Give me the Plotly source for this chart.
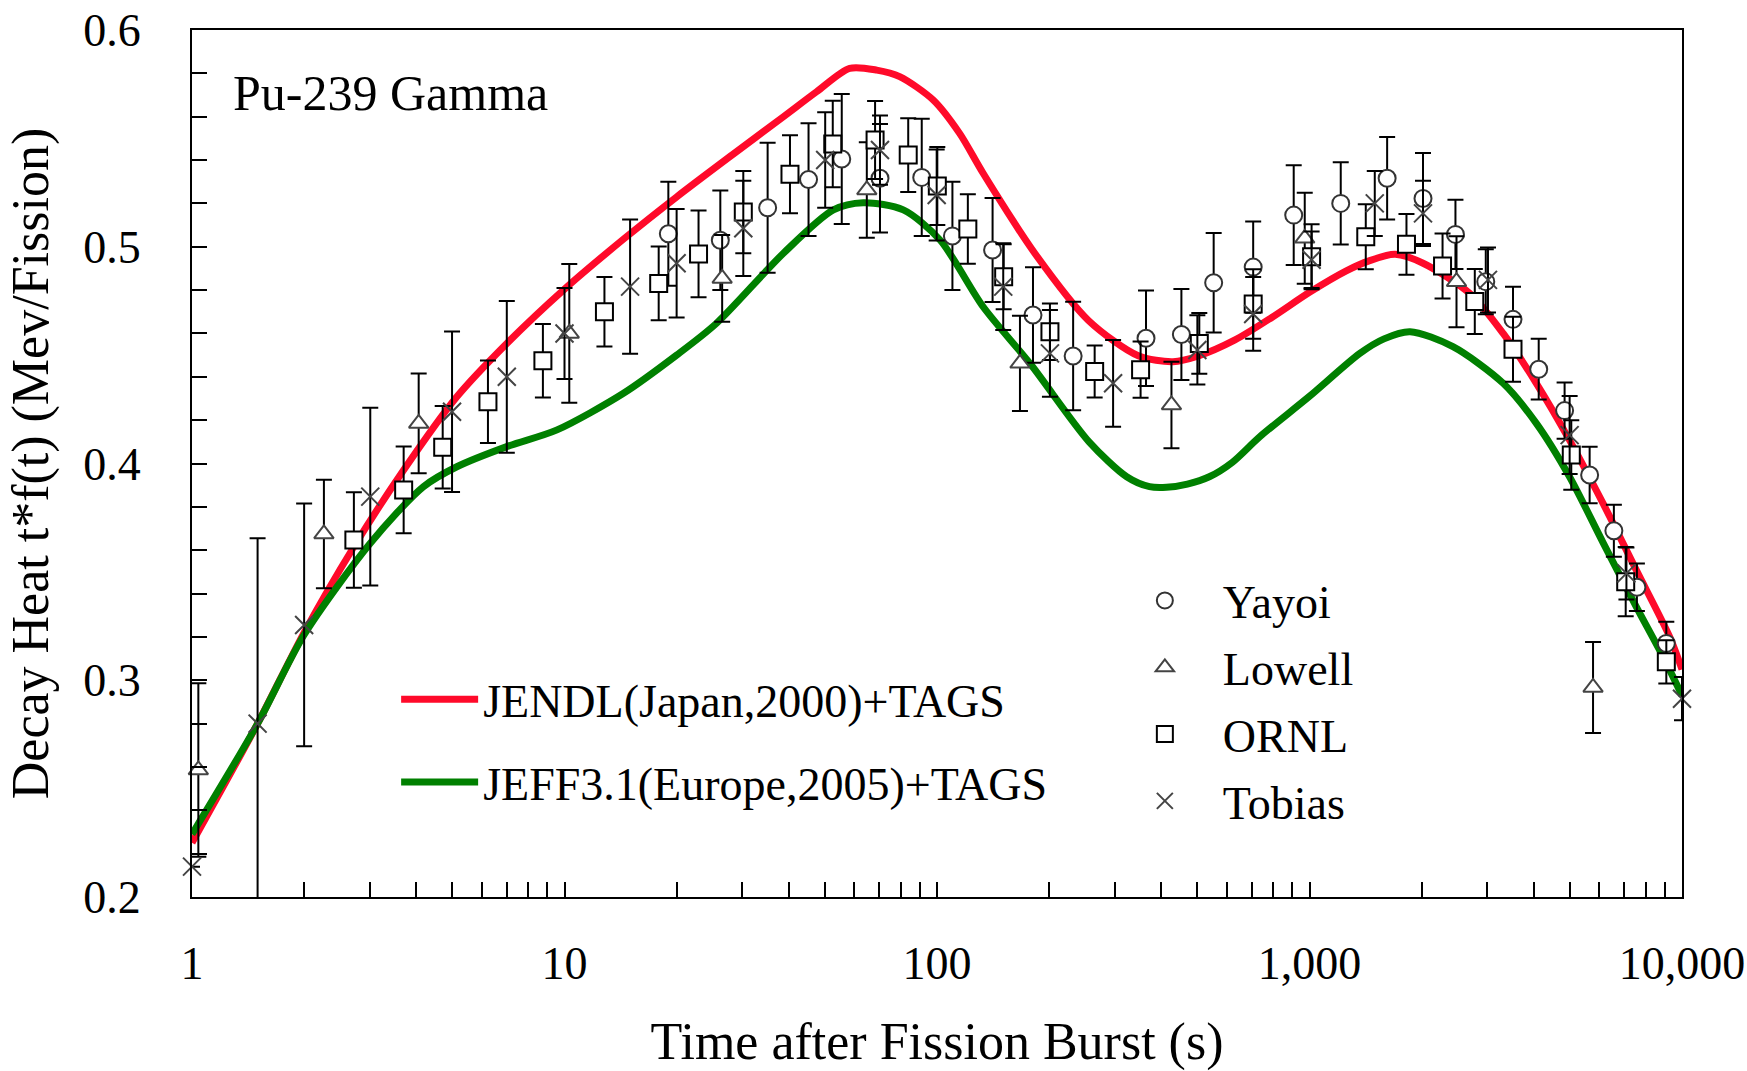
import plotly.graph_objects as go

# ---------------- data ----------------
JENDL_T = [1.0, 1.5, 2.0, 2.72, 3.7, 5.14, 7.0, 10.0, 14.4, 20.0, 28.2, 38.7, 47.5, 58.3, 68.9,
           79.4, 97.7, 115, 133, 183, 255, 347, 430, 501, 631, 794, 1000, 1259, 1445, 1698, 2018,
           2692, 3311, 4064, 4989, 6138, 7534, 9268, 10000]
JENDL_V = [0.225, 0.280, 0.322, 0.3616, 0.397, 0.4308, 0.4554, 0.4805, 0.5035, 0.523, 0.5424,
           0.560, 0.5715, 0.5823, 0.5815, 0.5785, 0.5677, 0.5523, 0.5339, 0.497, 0.466, 0.4497,
           0.447, 0.4495, 0.457, 0.4675, 0.479, 0.489, 0.4935, 0.4965, 0.4924, 0.4785, 0.460,
           0.437, 0.4108, 0.3816, 0.3509, 0.320, 0.305]

JEFF_T = [1.0, 1.5, 2.0, 3.01, 4.18, 5.14, 7.0, 9.55, 14.4, 20.0, 25.6, 38.7, 52.7, 63.4, 81.2,
          101.9, 133, 178, 256, 323, 372, 413, 470, 540, 620, 736, 1000, 1365, 1585, 1862, 2427,
          3311, 4064, 4989, 6138, 7534, 8892, 10000]
JEFF_V = [0.229, 0.280, 0.321, 0.3632, 0.3893, 0.3985, 0.4078, 0.4155, 0.4324, 0.450, 0.4647,
          0.497, 0.517, 0.5203, 0.517, 0.5031, 0.4723, 0.446, 0.410, 0.3939, 0.3893, 0.389,
          0.3905, 0.394, 0.4005, 0.4124, 0.431, 0.4508, 0.4575, 0.4608, 0.4539, 0.437, 0.4185,
          0.3939, 0.3635, 0.334, 0.3109, 0.293]

YAYOI_T = [19.0, 26.2, 35.1, 45.2, 55.5, 70.3, 91, 110, 141, 181, 232, 364, 453, 553, 706, 907,
           1213, 1616, 2017, 2465, 2973, 3518, 4124, 4840, 5650, 6563, 7567, 9076]
YAYOI_V = [0.506, 0.503, 0.518, 0.531, 0.5405, 0.5316, 0.532, 0.505, 0.4985, 0.4685, 0.4496,
           0.4578, 0.4595, 0.4834, 0.4906, 0.5146, 0.520, 0.5316, 0.5223, 0.5057, 0.4839, 0.4665,
           0.4435, 0.4244, 0.3947, 0.369, 0.3429, 0.317]
YAYOI_E = [0.024, 0.023, 0.030, 0.026, 0.030, 0.025, 0.027, 0.025, 0.024, 0.022, 0.025, 0.022,
           0.021, 0.023, 0.021, 0.023, 0.019, 0.019, 0.021, 0.016, 0.015, 0.015, 0.014, 0.013,
           0.013, 0.012, 0.011, 0.010]

LOWELL_T = [1.04, 2.26, 4.06, 10.3, 26.5, 64.8, 167, 426, 971, 2481, 5770]
LOWELL_V = [0.2586, 0.3675, 0.4185, 0.460, 0.4854, 0.5262, 0.4462, 0.427, 0.5039, 0.4839, 0.2967]
LOWELL_E = [0.040, 0.025, 0.023, 0.032, 0.020, 0.022, 0.022, 0.020, 0.021, 0.021, 0.021]

ORNL_T = [2.72, 3.70, 4.71, 6.23, 8.75, 12.8, 17.9, 22.9, 30.2, 40.3, 52.5, 68.2, 83.7, 100.2,
          121, 151, 201, 265, 352, 506, 706, 1013, 1416, 1821, 2276, 2778, 3518, 5044, 7061, 9076]
ORNL_V = [0.3647, 0.3878, 0.4075, 0.4285, 0.4474, 0.470, 0.4831, 0.4967, 0.516, 0.5334, 0.5474,
          0.5492, 0.5423, 0.528, 0.5082, 0.4862, 0.4608, 0.4424, 0.4433, 0.4554, 0.4736, 0.4954,
          0.5046, 0.5011, 0.4911, 0.4747, 0.4527, 0.4039, 0.3455, 0.3085]
ORNL_E = [0.022, 0.020, 0.019, 0.019, 0.017, 0.016, 0.017, 0.020, 0.019, 0.018, 0.020, 0.018,
          0.017, 0.018, 0.016, 0.015, 0.013, 0.012, 0.013, 0.014, 0.016, 0.015, 0.015, 0.014,
          0.015, 0.015, 0.015, 0.016, 0.016, 0.010]

TOBIAS_T = [1.0, 1.5, 2.0, 3.01, 4.99, 7.0, 10.0, 15.0, 20.0, 30.2, 50.1, 70.3, 99.8, 150.6, 201,
            297, 500, 706, 1013, 1497, 2017, 3014, 4993, 7093, 10000]
TOBIAS_V = [0.214, 0.280, 0.3255, 0.3847, 0.4239, 0.440, 0.460, 0.4816, 0.4924, 0.5085, 0.540,
            0.5446, 0.5239, 0.4816, 0.4508, 0.437, 0.4524, 0.469, 0.494, 0.520, 0.5154, 0.4847,
            0.4131, 0.3493, 0.2915]
TOBIAS_E = [None, 0.0855, 0.056, 0.041, 0.037, 0.035, 0.021, 0.031, 0.025, 0.022, 0.022, 0.016,
            0.021, 0.020, 0.020, 0.020, 0.016, 0.017, 0.013, 0.015, 0.015, 0.015, 0.018, 0.012,
            0.010]

X_TICK_VALS = [1, 10, 100, 1000, 10000]
X_TICK_TEXT = ["1", "10", "100", "1,000", "10,000"]
X_MINOR_VALS = [k * 10 ** d for d in range(4) for k in range(2, 10)]
Y_TICK_VALS = [0.2, 0.3, 0.4, 0.5, 0.6]
Y_TICK_TEXT = ["0.2", "0.3", "0.4", "0.5", "0.6"]

LINE_NAMES = ["JENDL(Japan,2000)+TAGS", "JEFF3.1(Europe,2005)+TAGS"]
EXP_NAMES = ["Yayoi", "Lowell", "ORNL", "Tobias"]
PANEL_LABEL = "Pu-239 Gamma"
X_TITLE = "Time after Fission Burst (s)"
Y_TITLE = "Decay Heat t*f(t) (Mev/Fission)"

# ---------------- figure ----------------
FONT = "Liberation Serif, Times New Roman, serif"
fig = go.Figure()

fig.add_trace(go.Scatter(x=JENDL_T, y=JENDL_V, mode="lines", name=LINE_NAMES[0],
                         line=dict(color="#ff0a2a", width=7, shape="spline", smoothing=0.8),
                         legend="legend", legendgroup="a", cliponaxis=False))
fig.add_trace(go.Scatter(x=JEFF_T, y=JEFF_V, mode="lines", name=LINE_NAMES[1],
                         line=dict(color="#008000", width=7, shape="spline", smoothing=0.8),
                         legend="legend", legendgroup="b", cliponaxis=False))

err_style = dict(type="data", symmetric=True, color="black", thickness=2, width=8)

exp_specs = [
    (YAYOI_T, YAYOI_V, YAYOI_E, EXP_NAMES[0], dict(symbol="circle", size=17, color="white",
                                                   line=dict(color="#333333", width=2))),
    (LOWELL_T, LOWELL_V, LOWELL_E, EXP_NAMES[1], dict(symbol="triangle-up", size=17, color="white",
                                                      line=dict(color="#444444", width=2))),
    (ORNL_T, ORNL_V, ORNL_E, EXP_NAMES[2], dict(symbol="square", size=17, color="white",
                                                line=dict(color="black", width=2))),
    (TOBIAS_T, TOBIAS_V, TOBIAS_E, EXP_NAMES[3], dict(symbol="x-thin", size=18, color="#444444",
                                                      line=dict(color="#444444", width=2))),
]
for i, (t, v, e, name, mk) in enumerate(exp_specs):
    fig.add_trace(go.Scatter(x=t, y=v, mode="markers", name=name, marker=mk,
                             error_y=dict(array=e, **err_style),
                             legend="legend2", legendgroup="e%d" % i, cliponaxis=False))

fig.add_annotation(text=PANEL_LABEL, xref="paper", yref="paper", x=0.026, y=0.927,
                   xanchor="left", yanchor="middle", showarrow=False,
                   font=dict(family=FONT, size=50, color="black"))

axis_common = dict(showline=True, linecolor="black", linewidth=2, mirror=True, showgrid=False,
                   zeroline=False, ticks="inside", ticklen=15, tickwidth=2, tickcolor="black",
                   tickfont=dict(family=FONT, size=46, color="black"))

fig.update_layout(
    width=1747, height=1071,
    margin=dict(l=192, r=65, t=30, b=174, autoexpand=False),
    paper_bgcolor="white", plot_bgcolor="white",
    font=dict(family=FONT, color="black"),
    xaxis=dict(type="log", range=[0, 4], tickvals=X_TICK_VALS, ticktext=X_TICK_TEXT,
               ticklabelstandoff=25,
               minor=dict(tickvals=X_MINOR_VALS, ticks="inside", ticklen=15, tickwidth=1.5,
                          tickcolor="black", showgrid=False),
               title=dict(text=X_TITLE, font=dict(family=FONT, size=52, color="black"),
                          standoff=35),
               **axis_common),
    yaxis=dict(range=[0.2, 0.6], tickvals=Y_TICK_VALS, ticktext=Y_TICK_TEXT,
               ticklabelstandoff=40,
               minor=dict(dtick=0.02, tick0=0.2, ticks="inside", ticklen=15, tickwidth=1.5,
                          tickcolor="black", showgrid=False),
               title=dict(text=Y_TITLE, font=dict(family=FONT, size=52, color="black"),
                          standoff=18),
               **axis_common),
    legend=dict(x=0.137, y=0.27, xanchor="left", yanchor="top", bgcolor="rgba(0,0,0,0)",
                font=dict(family=FONT, size=46, color="black"), itemwidth=77,
                traceorder="grouped", tracegroupgap=20),
    legend2=dict(x=0.614, y=0.384, xanchor="left", yanchor="top", bgcolor="rgba(0,0,0,0)",
                 font=dict(family=FONT, size=46, color="black"), itemwidth=106,
                 traceorder="grouped", tracegroupgap=4),
    showlegend=True,
)

fig.write_html("out.html")
